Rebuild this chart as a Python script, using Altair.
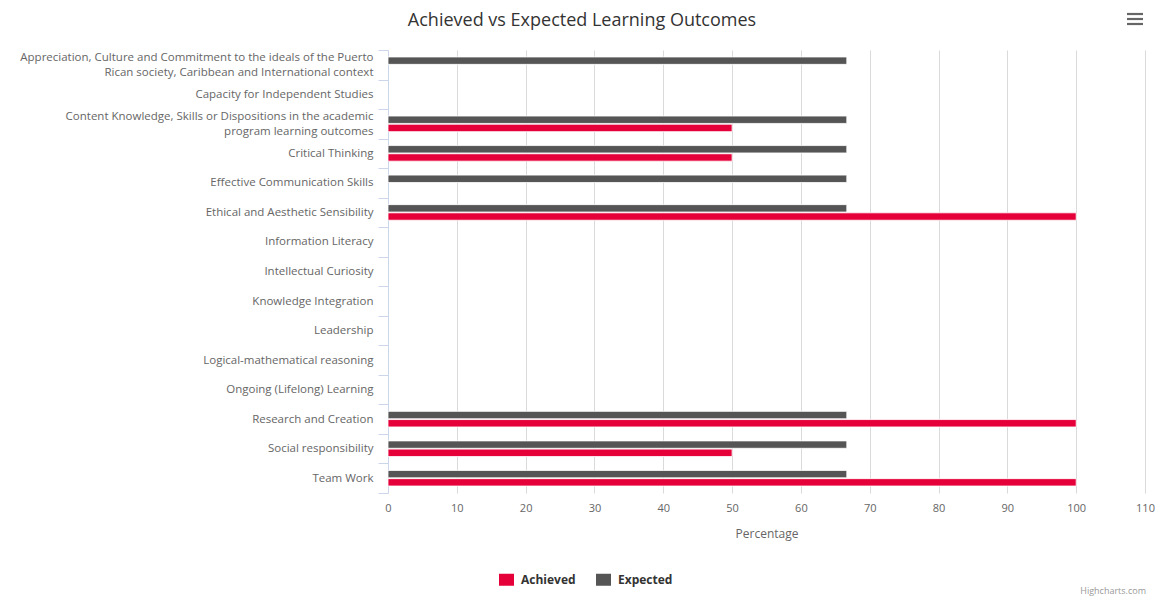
import altair as alt
import pandas as pd

categories = [
    "Appreciation, Culture and Commitment to the ideals of the Puerto Rican society, Caribbean and International context",
    "Capacity for Independent Studies",
    "Content Knowledge, Skills or Dispositions in the academic program learning outcomes",
    "Critical Thinking",
    "Effective Communication Skills",
    "Ethical and Aesthetic Sensibility",
    "Information Literacy",
    "Intellectual Curiosity",
    "Knowledge Integration",
    "Leadership",
    "Logical-mathematical reasoning",
    "Ongoing (Lifelong) Learning",
    "Research and Creation",
    "Social responsibility",
    "Team Work",
]
achieved = [None, None, 50, 50, None, 100, None, None, None, None, None, None, 100, 50, 100]
expected = [66.67, None, 66.67, 66.67, 66.67, 66.67, None, None, None, None, None, None, 66.67, 66.67, 66.67]

wrapped = {
    categories[0]: ["Appreciation, Culture and Commitment to the ideals of the Puerto",
                    "Rican society, Caribbean and International context"],
    categories[2]: ["Content Knowledge, Skills or Dispositions in the academic",
                    "program learning outcomes"],
}

title_text = ["Achieved vs Expected Learning Outcomes"]
credit_text = ["Highcharts.com"]

rows = []
for c, a, e in zip(categories, achieved, expected):
    if a is not None:
        rows.append({"category": c, "series": "Achieved", "value": a})
    if e is not None:
        rows.append({"category": c, "series": "Expected", "value": e})
df = pd.DataFrame(rows)

def js_str(s):
    return "'" + s.replace("'", "\\'") + "'"

expr = "datum.label"
for k, lines in wrapped.items():
    arr = "[" + ", ".join(js_str(l) for l in lines) + "]"
    expr = f"datum.label == {js_str(k)} ? {arr} : ({expr})"
wrapped_keys = "[" + ", ".join(js_str(k) for k in wrapped) + "]"
offset_expr = f"indexof({wrapped_keys}, datum.value) >= 0 ? -7.5 : 0"

FONT = "Open Sans"

bars = alt.Chart(df).mark_bar(stroke="#ffffff", strokeWidth=0.8).encode(
    y=alt.Y("category:N", sort=categories,
            scale=alt.Scale(domain=categories, paddingInner=0, paddingOuter=0),
            axis=alt.Axis(title=None, labelExpr=expr, labelLimit=400, labelFontSize=11.5,
                          labelColor="#666666", labelFont=FONT, labelLineHeight=15,
                          labelOffset=alt.ExprRef(offset_expr),
                          tickBand="extent", tickSize=10, tickColor="#ccd6eb",
                          domainColor="#ccd6eb", labelPadding=5, grid=False)),
    yOffset=alt.YOffset("series:N", sort=["Expected", "Achieved"],
                        scale=alt.Scale(paddingOuter=0.85, paddingInner=0.1)),
    x=alt.X("value:Q", scale=alt.Scale(domain=[0, 110], nice=False),
            axis=alt.Axis(title="Percentage", values=list(range(0, 111, 10)),
                          grid=True, gridColor="#dadada", domain=False, ticks=False,
                          labelFlush=False,
                          labelFontSize=11, labelColor="#666666", labelFont=FONT,
                          labelPadding=9, titleFontSize=12, titleColor="#666666",
                          titleFont=FONT, titleFontWeight="normal", titlePadding=15)),
    color=alt.Color("series:N",
                    scale=alt.Scale(domain=["Achieved", "Expected"], range=["#e6003a", "#555555"]),
                    legend=alt.Legend(title=None, orient="none", legendX=111, legendY=522,
                                      direction="horizontal",
                                      symbolType="M-1,-0.8H1V0.8H-1Z",
                                      symbolSize=225, symbolStrokeWidth=0,
                                      labelFontSize=12, labelFontWeight="bold",
                                      labelColor="#333333", labelFont=FONT,
                                      labelOffset=7, columnPadding=20)),
)

title = alt.Chart(pd.DataFrame({"t": title_text})).mark_text(
    align="center", baseline="alphabetic", fontSize=18, color="#333333", font=FONT
).encode(text="t:N", x=alt.value(194), y=alt.value(-24))

credit = alt.Chart(pd.DataFrame({"t": credit_text})).mark_text(
    align="right", baseline="middle", fontSize=9, color="#999999", font=FONT
).encode(text="t:N", x=alt.value(758), y=alt.value(541))

menu = alt.Chart(pd.DataFrame({"k": [-36, -31, -26]})).mark_rule(
    color="#666666", strokeWidth=2.2
).encode(x=alt.value(739), x2=alt.value(755), y=alt.Y("k:Q", scale=None, axis=None))

chart = alt.layer(bars, title, credit, menu).properties(
    width=757, height=443,
    padding={"left": 380, "top": 42, "right": 10, "bottom": 104},
    autosize=alt.AutoSizeParams(type="none"),
).configure_view(stroke=None)

chart.save("out.html", embed_options={"renderer": "svg", "actions": False})
